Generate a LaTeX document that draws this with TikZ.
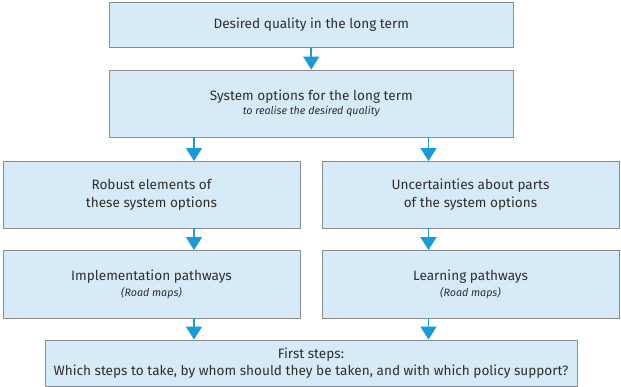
\documentclass[tikz,border=0pt]{standalone}
\usepackage{fontspec}
\setmainfont{Fira Sans}
\usetikzlibrary{arrows.meta}
\definecolor{boxfill}{HTML}{D7EAF8}
\definecolor{boxline}{HTML}{8C8C8C}
\definecolor{arrblue}{HTML}{1A9AD7}
\definecolor{txt}{HTML}{2F2F2F}
\newcommand{\subtxt}[1]{{\fontsize{10.7}{13}\selectfont\itshape #1}}
\tikzset{
  box/.style={draw=boxline, fill=boxfill, line width=0.9pt, inner sep=0pt,
    align=center, text=txt, font=\fontsize{13.6}{17.5}\selectfont},
  arr/.style={draw=arrblue, line width=1.6pt, -{Triangle[width=16pt,length=13pt]}}
}
\begin{document}
\begin{tikzpicture}[x=1pt,y=-1pt]
\useasboundingbox (0,0) rectangle (621,387);
\node[box, minimum width=403.5pt, minimum height=45pt] (top) at (311.25,25) {Desired quality in the long term};
\node[box, minimum width=403.5pt, minimum height=67pt] (sys) at (311.25,103.5) {System options for the long term\\[-3pt]\subtxt{to realise the desired quality}};
\node[box, minimum width=297pt, minimum height=66.5pt] (rl) at (151.5,194.75) {Robust elements of\\these system options};
\node[box, minimum width=297pt, minimum height=66.5pt] (rr) at (470.5,194.75) {Uncertainties about parts\\of the system options};
\node[box, minimum width=297pt, minimum height=67.5pt] (il) at (151.5,284.25) {Implementation pathways\\[-1pt]\subtxt{(Road maps)}};
\node[box, minimum width=297pt, minimum height=67.5pt] (ir) at (470.5,284.25) {Learning pathways\\[-1pt]\subtxt{(Road maps)}};
\node[box, minimum width=532pt, minimum height=46pt] (fs) at (311,363) {First steps:\\Which steps to take, by whom should they be taken, and with which policy support?};
\coordinate (xl) at (194,0);
\coordinate (xr) at (428.5,0);
\draw[arr] (top.south) -- (sys.north);
\draw[arr] (sys.south -| xl) -- (rl.north -| xl);
\draw[arr] (sys.south -| xr) -- (rr.north -| xr);
\draw[arr] (rl.south -| xl) -- (il.north -| xl);
\draw[arr] (rr.south -| xr) -- (ir.north -| xr);
\draw[arr] (il.south -| xl) -- (fs.north -| xl);
\draw[arr] (ir.south -| xr) -- (fs.north -| xr);
\end{tikzpicture}
\end{document}
